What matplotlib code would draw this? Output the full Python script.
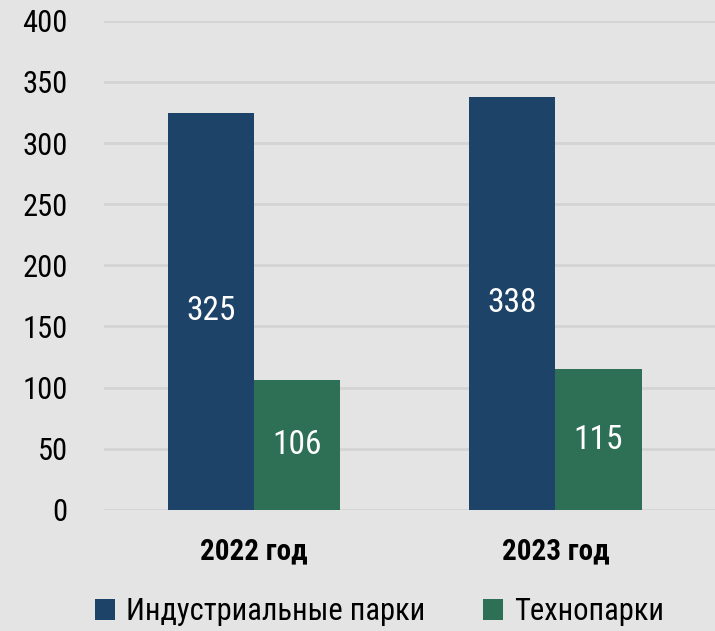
import matplotlib.pyplot as plt
import numpy as np

years = ['2022 год', '2023 год']
industrial = [325, 338]
techno = [106, 115]
series_names = ['Индустриальные парки', 'Технопарки']

plt.rcParams['font.family'] = ['Roboto Condensed', 'DejaVu Sans']

bg = '#e4e4e4'
blue = '#1d4468'
green = '#2e7055'

fig = plt.figure(figsize=(7.15, 6.31), dpi=100, facecolor=bg)
ax = fig.add_axes([0.145, 0.192, 0.855, 0.775], facecolor=bg)

x = np.arange(len(years))
w = 0.286
b1 = ax.bar(x - w / 2, industrial, w, color=blue, label=series_names[0], zorder=3)
b2 = ax.bar(x + w / 2, techno, w, color=green, label=series_names[1], zorder=3)

# value labels in the middle of each bar
for bars in (b1, b2):
    for r in bars:
        ax.text(r.get_x() + r.get_width() / 2, r.get_height() / 2, str(int(r.get_height())),
                ha='center', va='center', color='white', fontsize=24, zorder=4)

ax.set_ylim(0, 400)
ax.set_xlim(-0.5, 1.53)
ax.set_yticks(range(0, 401, 50))
ax.set_xticks(x)
ax.set_xticklabels(years, fontsize=21, fontweight='bold')
ax.tick_params(axis='y', labelsize=22, length=0, pad=26)
ax.tick_params(axis='x', length=0, pad=20)
ax.grid(axis='y', color='#d4d4d4', linewidth=2, zorder=0)
for s in ax.spines.values():
    s.set_visible(False)

fig.legend(loc='lower center', bbox_to_anchor=(0.531, -0.036), ncol=2, frameon=False,
           prop={'size': 22}, handlelength=0.65, handleheight=0.65,
           columnspacing=1.9, handletextpad=0.35)

fig.savefig('out.png', dpi=100, facecolor=bg)
